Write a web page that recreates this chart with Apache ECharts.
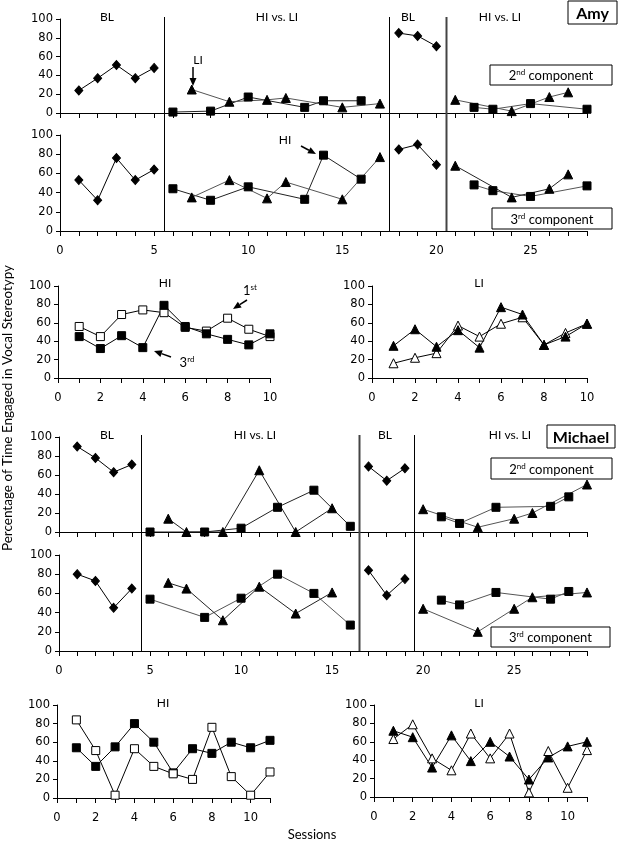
<!DOCTYPE html>
<html>
<head>
<meta charset="utf-8">
<script src="https://cdn.jsdelivr.net/npm/echarts@6/dist/echarts.min.js"></script>
<style>
  html, body { margin: 0; padding: 0; background: #fff; }
  #chart { width: 623px; height: 842px; }
</style>
</head>
<body>
<div id="chart"></div>
<script>
// ---- Amy, multielement panels (2nd / 3rd component) ----
var amyBL1 = [1, 2, 3, 4, 5];
var amyBL2 = [18, 19, 20];
var amyHIx1 = [6, 8, 10, 13, 14, 16];
var amyLIx1 = [7, 9, 11, 12, 15, 17];
var amyHIx2 = [22, 23, 25, 28];
var amyLIx2 = [21, 24, 26, 27];

var amy2BL1 = [24, 37, 51, 37, 48];
var amy2HI1 = [1, 2, 17, 6, 13, 13];
var amy2LI1 = [25, 12, 14, 16, 6, 10];
var amy2BL2 = [85, 82, 71];
var amy2HI2 = [6, 4, 10, 4];
var amy2LI2 = [14, 2, 17, 22];

var amy3BL1 = [53, 32, 76, 53, 64];
var amy3HI1 = [44, 32, 46, 33, 79, 54];
var amy3LI1 = [35, 53, 34, 51, 33, 77];
var amy3BL2 = [85, 90, 69];
var amy3HI2 = [48, 42, 36, 47];
var amy3LI2 = [68, 35, 44, 59];

// ---- Amy, HI / LI session panels ----
var amySmallX = [1, 2, 3, 4, 5, 6, 7, 8, 9, 10];
var amyHi1st = [56, 45, 69, 74, 71, 55, 51, 65, 53, 45];
var amyHi3rd = [45, 32, 46, 33, 79, 56, 48, 42, 36, 48];
var amyLi1st = [16, 22, 27, 57, 45, 59, 66, 36, 49, 59];
var amyLi3rd = [35, 53, 34, 52, 33, 77, 69, 36, 45, 59];

// ---- Michael, multielement panels ----
var micBL1 = [1, 2, 3, 4];
var micBL2 = [17, 18, 19];
var micHIx1 = [5, 8, 10, 12, 14, 16];
var micLIx1 = [6, 7, 9, 11, 13, 15];
var micHIx2 = [21, 22, 24, 27, 28];
var micLIx2 = [20, 23, 25, 26, 29];

var mic2BL1 = [90, 78, 63, 71];
var mic2HI1 = [0, 0, 4, 26, 44, 6];
var mic2LI1 = [14, 0, 0, 65, 0, 25];
var mic2BL2 = [69, 54, 67];
var mic2HI2 = [16, 9, 26, 27, 37];
var mic2LI2 = [24, 5, 14, 20, 50];

var mic3BL1 = [80, 73, 45, 65];
var mic3HI1 = [54, 35, 55, 80, 60, 27];
var mic3LI1 = [71, 65, 32, 67, 39, 61];
var mic3BL2 = [84, 58, 75];
var mic3HI2 = [53, 48, 61, 54, 62];
var mic3LI2 = [44, 20, 44, 56, 61];

// ---- Michael, HI / LI session panels ----
var micSmallX = [1, 2, 3, 4, 5, 6, 7, 8, 9, 10, 11];
var micHiFilled = [54, 34, 55, 80, 60, 27, 53, 48, 60, 54, 62];
var micHiOpen = [84, 51, 3, 53, 34, 26, 20, 76, 23, 3, 28];
var micLiFilled = [72, 65, 32, 67, 39, 60, 44, 19, 43, 55, 60];
var micLiOpen = [63, 79, 42, 29, 69, 42, 69, 5, 50, 10, 51];

// phase change lines (session value between phases)
var amyPhaseLines = [5.5, 17.5, 20.5];
var micPhaseLines = [4.5, 16.5, 19.5];

var tickFont = 'DejaVu Sans';
var textFont = 'Lato';

function pts(xs, ys) {
    return xs.map(function (x, i) { return [x, ys[i]]; });
}

function mkSeries(gi, xs, ys, shape, open, lineColor) {
    var size = shape === 'diamond' ? [8, 9] : (shape === 'triangle' ? 9 : 8);
    return {
        type: 'line',
        xAxisIndex: gi,
        yAxisIndex: gi,
        data: pts(xs, ys),
        symbol: shape === 'square' ? 'rect' : shape,
        symbolSize: size,
        showAllSymbol: true,
        animation: false,
        silent: true,
        lineStyle: { color: lineColor || '#000', width: 1 },
        itemStyle: { color: open ? '#fff' : '#000', borderColor: '#000', borderWidth: 1 },
        emphasis: { disabled: true },
        z: 3
    };
}

function xAxisCfg(gi, max, step, showLabels) {
    return {
        type: 'value', gridIndex: gi, min: 0, max: max, interval: 1,
        axisLine: { onZero: false, lineStyle: { color: '#000', width: 1 } },
        axisTick: { show: true, length: 5, lineStyle: { color: '#000' } },
        splitLine: { show: false },
        axisLabel: {
            show: showLabels, margin: 14, color: '#000', fontFamily: tickFont, fontSize: 11.5,
            showMaxLabel: true, showMinLabel: true,
            formatter: function (v) { return v % step === 0 ? String(v) : ''; }
        }
    };
}

function yAxisCfg(gi) {
    return {
        type: 'value', gridIndex: gi, min: 0, max: 100, interval: 20,
        axisLine: { show: true, lineStyle: { color: '#000', width: 1 } },
        axisTick: { show: true, length: 4, lineStyle: { color: '#000' } },
        splitLine: { show: false },
        axisLabel: { color: '#000', fontFamily: tickFont, fontSize: 11.5, margin: 7 }
    };
}

var grids = [
    { left: 60, top: 19, width: 527, height: 94 },     // 0 Amy 2nd
    { left: 60, top: 135, width: 527, height: 96 },    // 1 Amy 3rd
    { left: 58, top: 286, width: 212, height: 92 },    // 2 Amy HI
    { left: 372, top: 286, width: 215, height: 92 },   // 3 Amy LI
    { left: 59, top: 437, width: 528, height: 95 },    // 4 Michael 2nd
    { left: 59, top: 555, width: 528, height: 96 },    // 5 Michael 3rd
    { left: 57, top: 705, width: 213, height: 93 },    // 6 Michael HI
    { left: 374, top: 705, width: 213, height: 92 }    // 7 Michael LI
];

var gray = '#555';

var series = [
    // Amy 2nd component
    mkSeries(0, amyBL1, amy2BL1, 'diamond', false, '#000'),
    mkSeries(0, amyHIx1, amy2HI1, 'square', false, '#222'),
    mkSeries(0, amyLIx1, amy2LI1, 'triangle', false, gray),
    mkSeries(0, amyBL2, amy2BL2, 'diamond', false, '#000'),
    mkSeries(0, amyHIx2, amy2HI2, 'square', false, gray),
    mkSeries(0, amyLIx2, amy2LI2, 'triangle', false, gray),
    // Amy 3rd component
    mkSeries(1, amyBL1, amy3BL1, 'diamond', false, '#000'),
    mkSeries(1, amyHIx1, amy3HI1, 'square', false, '#222'),
    mkSeries(1, amyLIx1, amy3LI1, 'triangle', false, gray),
    mkSeries(1, amyBL2, amy3BL2, 'diamond', false, '#000'),
    mkSeries(1, amyHIx2, amy3HI2, 'square', false, gray),
    mkSeries(1, amyLIx2, amy3LI2, 'triangle', false, '#222'),
    // Amy HI / LI
    mkSeries(2, amySmallX, amyHi1st, 'square', true, '#000'),
    mkSeries(2, amySmallX, amyHi3rd, 'square', false, '#000'),
    mkSeries(3, amySmallX, amyLi1st, 'triangle', true, '#000'),
    mkSeries(3, amySmallX, amyLi3rd, 'triangle', false, '#000'),
    // Michael 2nd component
    mkSeries(4, micBL1, mic2BL1, 'diamond', false, '#000'),
    mkSeries(4, micHIx1, mic2HI1, 'square', false, '#222'),
    mkSeries(4, micLIx1, mic2LI1, 'triangle', false, '#222'),
    mkSeries(4, micBL2, mic2BL2, 'diamond', false, '#000'),
    mkSeries(4, micHIx2, mic2HI2, 'square', false, gray),
    mkSeries(4, micLIx2, mic2LI2, 'triangle', false, gray),
    // Michael 3rd component
    mkSeries(5, micBL1, mic3BL1, 'diamond', false, '#000'),
    mkSeries(5, micHIx1, mic3HI1, 'square', false, gray),
    mkSeries(5, micLIx1, mic3LI1, 'triangle', false, '#222'),
    mkSeries(5, micBL2, mic3BL2, 'diamond', false, '#000'),
    mkSeries(5, micHIx2, mic3HI2, 'square', false, gray),
    mkSeries(5, micLIx2, mic3LI2, 'triangle', false, gray),
    // Michael HI / LI
    mkSeries(6, micSmallX, micHiFilled, 'square', false, '#000'),
    mkSeries(6, micSmallX, micHiOpen, 'square', true, '#000'),
    mkSeries(7, micSmallX, micLiFilled, 'triangle', false, '#000'),
    mkSeries(7, micSmallX, micLiOpen, 'triangle', true, '#000')
];

var option = {
    animation: false,
    backgroundColor: '#fff',
    grid: grids,
    xAxis: [
        xAxisCfg(0, 28, 5, false),
        xAxisCfg(1, 28, 5, true),
        xAxisCfg(2, 10, 2, true),
        xAxisCfg(3, 10, 2, true),
        xAxisCfg(4, 29, 5, false),
        xAxisCfg(5, 29, 5, true),
        xAxisCfg(6, 11, 2, true),
        xAxisCfg(7, 11, 2, true)
    ],
    yAxis: [0, 1, 2, 3, 4, 5, 6, 7].map(yAxisCfg),
    series: series
};

var chart = echarts.init(document.getElementById('chart'), null, { renderer: 'canvas' });
chart.setOption(option);

// ---------- annotations ----------
function txt(x, y, s, size, opts) {
    opts = opts || {};
    return {
        type: 'text', z: 10, silent: true,
        style: {
            x: x, y: y, text: s, fill: '#000',
            font: (opts.bold ? 'bold ' : '') + size + 'px ' + textFont,
            align: opts.align || 'center', verticalAlign: 'middle',
            rich: opts.rich
        }
    };
}

function boxed(x, y, w, h, s, size, opts) {
    return [
        { type: 'rect', z: 9, silent: true, shape: { x: x, y: y, width: w, height: h },
          style: { fill: '#fff', stroke: '#000', lineWidth: 1 } },
        txt(x + w / 2, y + h / 2 + 1, s, size, opts)
    ];
}

var supRich = {
    a: { fontFamily: textFont, fontSize: 13, fill: '#000' },
    s: { fontFamily: textFont, fontSize: 8, fill: '#000', verticalAlign: 'top', padding: [0, 0, 7, 0] }
};

function arrow(x1, y1, x2, y2) {
    var a = Math.atan2(y2 - y1, x2 - x1);
    var L = 8, W = 3.5;
    var bx = x2 - L * Math.cos(a), by = y2 - L * Math.sin(a);
    return [
        { type: 'line', z: 10, silent: true, shape: { x1: x1, y1: y1, x2: bx, y2: by },
          style: { stroke: '#000', lineWidth: 1.5 } },
        { type: 'polygon', z: 10, silent: true,
          shape: { points: [[x2, y2], [bx + W * Math.sin(a), by - W * Math.cos(a)], [bx - W * Math.sin(a), by + W * Math.cos(a)]] },
          style: { fill: '#000' } }
    ];
}

function phaseLines(list, topGrid, bottomGrid, widths) {
    var top = chart.convertToPixel({ yAxisIndex: topGrid }, 100) - 2;
    var bottom = chart.convertToPixel({ yAxisIndex: bottomGrid }, 0);
    return list.map(function (v, i) {
        var x = Math.round(chart.convertToPixel({ xAxisIndex: topGrid }, v)) + 0.5;
        return { type: 'line', z: 8, silent: true, shape: { x1: x, y1: top, x2: x, y2: bottom },
                 style: { stroke: widths[i] > 1 ? '#444' : '#000', lineWidth: widths[i] } };
    });
}

var g = [];
g = g.concat(phaseLines(amyPhaseLines, 0, 1, [1, 1, 2]));
g = g.concat(phaseLines(micPhaseLines, 4, 5, [1, 2, 1]));

// phase titles
g.push(txt(107, 17, 'BL', 12));
g.push(txt(277, 17, 'HI vs. LI', 12));
g.push(txt(408, 17, 'BL', 12));
g.push(txt(500, 17, 'HI vs. LI', 12));
g.push(txt(107, 435, 'BL', 12));
g.push(txt(255, 435, 'HI vs. LI', 12));
g.push(txt(385, 435, 'BL', 12));
g.push(txt(510, 435, 'HI vs. LI', 12));

// boxes
g = g.concat(boxed(568, 1, 49, 23, 'Amy', 16, { bold: true }));
g = g.concat(boxed(490, 65, 122, 20, '{a|2}{s|nd}{a| component}', 13, { rich: supRich }));
g = g.concat(boxed(492, 208, 120, 21, '{a|3}{s|rd}{a| component}', 13, { rich: supRich }));
g = g.concat(boxed(547, 425, 68, 23, 'Michael', 16, { bold: true }));
g = g.concat(boxed(491, 458, 121, 21, '{a|2}{s|nd}{a| component}', 13, { rich: supRich }));
g = g.concat(boxed(491, 627, 119, 20, '{a|3}{s|rd}{a| component}', 13, { rich: supRich }));

// small panel titles
g.push(txt(165, 283, 'HI', 12));
g.push(txt(479, 283, 'LI', 12));
g.push(txt(163, 703, 'HI', 12));
g.push(txt(479, 703, 'LI', 12));

// arrows and labels
g.push(txt(198, 60, 'LI', 12));
g = g.concat(arrow(193, 67, 193, 86));
g.push(txt(285, 140, 'HI', 12));
g = g.concat(arrow(301, 146, 316, 154));
g.push(txt(250, 291, '{a|1}{s|st}', 13, { rich: supRich }));
g = g.concat(arrow(247, 300, 233, 309));
g.push(txt(187, 363, '{a|3}{s|rd}', 13, { rich: supRich }));
g = g.concat(arrow(171, 357, 154, 351));

// axis titles
g.push({
    type: 'text', z: 10, silent: true, rotation: Math.PI / 2, x: 8, y: 408,
    style: { x: 0, y: 0, text: 'Percentage of Time Engaged in Vocal Stereotypy', fill: '#000',
             font: '13.5px ' + textFont, align: 'center', verticalAlign: 'middle' }
});
g.push(txt(312, 835, 'Sessions', 13));

chart.setOption({ graphic: g });
</script>
</body>
</html>
